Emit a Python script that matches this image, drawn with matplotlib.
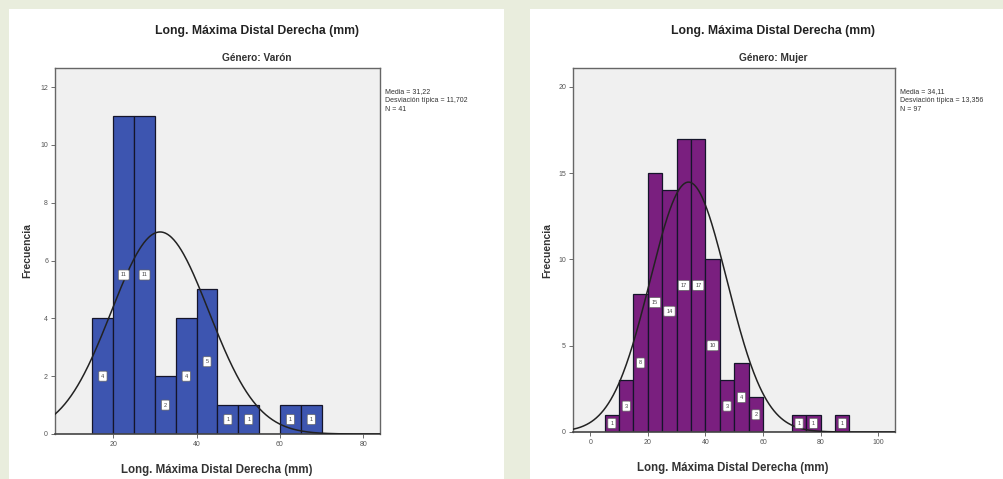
import numpy as np
import matplotlib
matplotlib.use("Agg")
import matplotlib.pyplot as plt
from matplotlib.patches import Rectangle

plt.rcParams['font.family'] = ['Liberation Sans', 'DejaVu Sans']

# ---------------- data ----------------
title = "Long. Máxima Distal Derecha (mm)"
xlabel = "Long. Máxima Distal Derecha (mm)"
ylabel = "Frecuencia"

sub_varon = "Género: Varón"
bins_varon = [15, 20, 25, 30, 35, 40, 45, 50, 55, 60, 65]
counts_varon = [4, 11, 11, 2, 4, 5, 1, 1, 0, 1, 1]
mean_varon, sd_varon, n_varon = 31.22, 11.702, 41
stats_varon = ["Media = 31,22", "Desviación típica = 11,702", "N = 41"]
xticks_varon = [20, 40, 60, 80]
yticks_varon = [0, 2, 4, 6, 8, 10, 12]

sub_mujer = "Género: Mujer"
bins_mujer = [5, 10, 15, 20, 25, 30, 35, 40, 45, 50, 55, 60, 65, 70, 75, 80, 85]
counts_mujer = [1, 3, 8, 15, 14, 17, 17, 10, 3, 4, 2, 0, 0, 1, 1, 0, 1]
mean_mujer, sd_mujer, n_mujer = 34.11, 13.356, 97
stats_mujer = ["Media = 34,11", "Desviación típica = 13,356", "N = 97"]
xticks_mujer = [0, 20, 40, 60, 80, 100]
yticks_mujer = [0, 5, 10, 15, 20]

bin_width = 5

# ---------------- figure ----------------
W, H = 1004, 479
fig = plt.figure(figsize=(W / 100, H / 100), dpi=100)
fig.patch.set_facecolor('#e9eddd')
# white panels (behind the axes)
fig.patches.append(Rectangle((9 / W, 0), (504 - 9) / W, 1 - 9 / H,
                             transform=fig.transFigure, facecolor='white',
                             edgecolor='none', zorder=-5))
fig.patches.append(Rectangle((530 / W, 0), (W - 530) / W, 1 - 9 / H,
                             transform=fig.transFigure, facecolor='white',
                             edgecolor='none', zorder=-5))


def panel(rect, bins, counts, mean, sd, n, color, xlim, ylim, xticks, yticks,
          subtitle, stats, title_x, stats_x, xlabel_x, ylabel_x, xlabel_y):
    ax = fig.add_axes(rect)
    ax.set_zorder(1)
    ax.set_facecolor('#f0f0f0')
    ax.bar(bins, counts, width=bin_width, align='edge', color=color,
           edgecolor='#15152a', linewidth=0.9, zorder=2)
    # small white value boxes at half height
    for b, c in zip(bins, counts):
        if c > 0:
            ax.text(b + bin_width / 2, c / 2, str(c), fontsize=4, ha='center',
                    va='center', color='#444444', zorder=4,
                    bbox=dict(boxstyle='round,pad=0.45,rounding_size=0.2',
                              facecolor='white', edgecolor='#666666',
                              linewidth=0.5))
    xs = np.linspace(xlim[0], xlim[1], 400)
    ys = n * bin_width / (sd * np.sqrt(2 * np.pi)) * np.exp(-0.5 * ((xs - mean) / sd) ** 2)
    ax.plot(xs, ys, color='#222222', linewidth=1.1, zorder=3)
    ax.set_xlim(*xlim)
    ax.set_ylim(*ylim)
    ax.set_xticks(xticks)
    ax.set_yticks(yticks)
    ax.tick_params(labelsize=5, colors='#555555', length=3, width=0.6,
                   direction='out', pad=2)
    for s in ax.spines.values():
        s.set_color('#666666')
        s.set_linewidth(1.0)
    ax.spines['bottom'].set_color('#444444')
    ax.spines['bottom'].set_linewidth(1.2)

    fig.text(title_x / W, 1 - 31 / H, title, fontsize=8.8, fontweight='bold',
             ha='center', va='center', color='#222222', zorder=2)
    fig.text(title_x / W, 1 - 58 / H, subtitle, fontsize=7.3, fontweight='bold',
             ha='center', va='center', color='#333333', zorder=2)
    fig.text(stats_x / W, 1 - 88 / H, "\n".join(stats), fontsize=5,
             ha='left', va='top', color='#333333', linespacing=1.4, zorder=2)
    fig.text(xlabel_x / W, 1 - xlabel_y / H, xlabel, fontsize=8.3, fontweight='bold',
             ha='center', va='center', color='#333333', zorder=2)
    fig.text(ylabel_x / W, 1 - 251 / H, ylabel, fontsize=7.5, fontweight='bold',
             ha='center', va='center', rotation=90, color='#333333', zorder=2)
    return ax


panel([55 / W, 1 - 434 / H, 325 / W, 366 / H], bins_varon, counts_varon,
      mean_varon, sd_varon, n_varon, '#3d55b0', (6, 84), (0, 12.66),
      xticks_varon, yticks_varon, sub_varon, stats_varon,
      title_x=257, stats_x=385, xlabel_x=217, ylabel_x=27, xlabel_y=470)

panel([573 / W, 1 - 432 / H, 322 / W, 364 / H], bins_mujer, counts_mujer,
      mean_mujer, sd_mujer, n_mujer, '#7a1f7f', (-6, 105.8), (0, 21.1),
      xticks_mujer, yticks_mujer, sub_mujer, stats_mujer,
      title_x=773, stats_x=900, xlabel_x=733, ylabel_x=547, xlabel_y=468)

fig.savefig("out.png", dpi=100)
